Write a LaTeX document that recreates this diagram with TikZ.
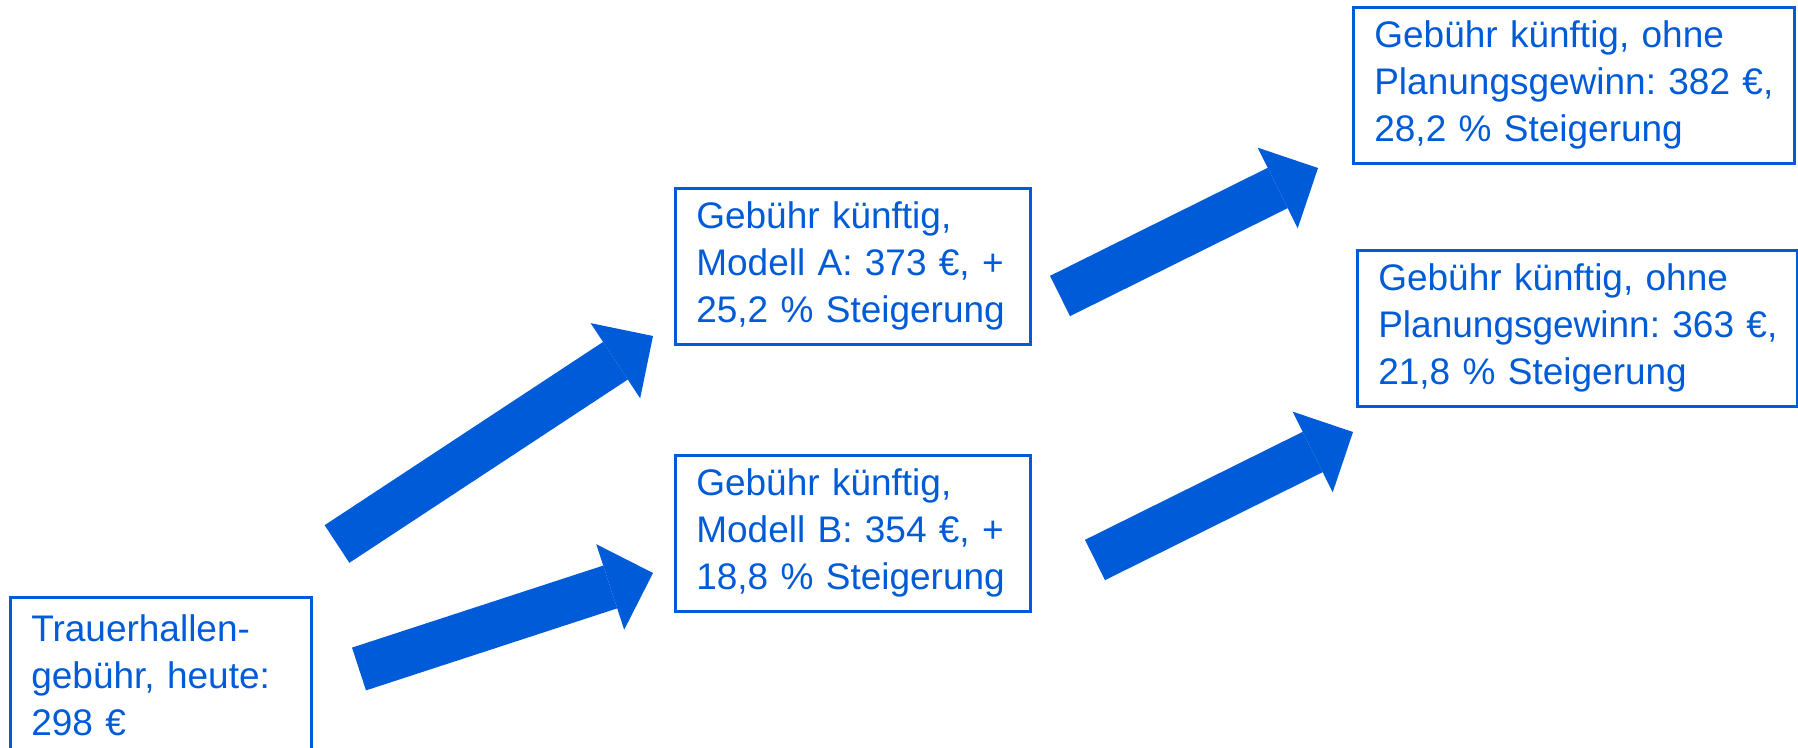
\documentclass[tikz,border=0pt]{standalone}
\usepackage{fontspec}
\setmainfont{Liberation Sans}
\usetikzlibrary{arrows.meta}
\definecolor{azul}{RGB}{0,91,216}

\begin{document}
\begin{tikzpicture}[x=0.5pt, y=-0.5pt,
    caja/.style={draw=azul, line width=1.3pt, text=azul, anchor=north west,
      align=left, inner xsep=10.5pt, inner ysep=0pt, minimum height=78pt,
      font=\fontsize{18.5}{23.5}\selectfont\frenchspacing},
    flecha/.style={azul, line width=22.5pt,
      -{Triangle[length=22.5pt, width=45pt, line width=0pt]}}]
    % Marco
    \useasboundingbox (0, 0) rectangle (1798, 748);

    % Cajas
    \node[caja, text width=129.5pt] (hoy) at (9, 596) {Trauerhallen-\\gebühr, heute:\\298 €};
    \node[caja, text width=156.5pt] (modA) at (674, 187) {Gebühr künftig,\\Modell A: 373 €, +\\25,2 \% Steigerung};
    \node[caja, text width=156.5pt] (modB) at (674, 454) {Gebühr künftig,\\Modell B: 354 €, +\\18,8 \% Steigerung};
    \node[caja, text width=199.5pt] (sinA) at (1352, 6) {Gebühr künftig, ohne\\\mbox{Planungsgewinn: 382 €,}\\28,2 \% Steigerung};
    \node[caja, text width=199pt] (sinB) at (1356, 249) {Gebühr künftig, ohne\\\mbox{Planungsgewinn: 363 €,}\\21,8 \% Steigerung};

    % Puntos de las flechas
    \coordinate (f1a) at (337, 544);
    \coordinate (f1b) at (653, 336);
    \coordinate (f2a) at (359, 669);
    \coordinate (f2b) at (653, 573);
    \coordinate (f3a) at (1060, 296);
    \coordinate (f3b) at (1318, 168);
    \coordinate (f4a) at (1095, 560);
    \coordinate (f4b) at (1353, 432);

    % Flechas
    \draw[flecha] (f1a) -- (f1b);
    \draw[flecha] (f2a) -- (f2b);
    \draw[flecha] (f3a) -- (f3b);
    \draw[flecha] (f4a) -- (f4b);
\end{tikzpicture}
\end{document}
